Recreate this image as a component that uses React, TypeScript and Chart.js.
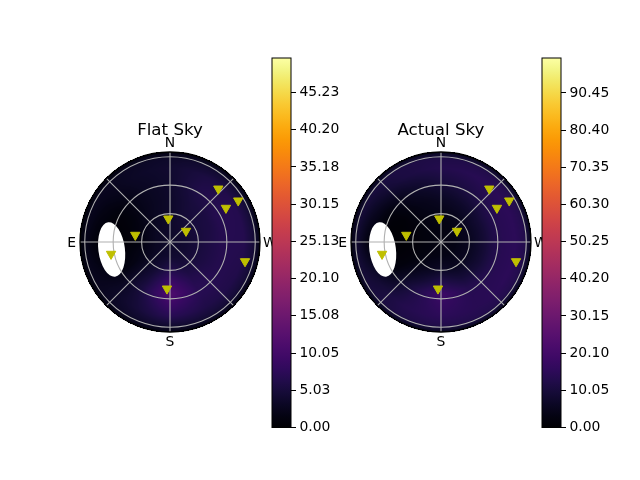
import React, { useEffect, useRef } from "react";
import { Chart, registerables } from "chart.js";

Chart.register(...registerables);

// ---------------- data ----------------
const directionLabels = ["N", "E", "S", "W"];
const directionAz = [0, 90, 180, 270];
const zenithRings = [30, 60, 90];
const spokeAngles = [0, 45, 90, 135];
const skyRadius = 95;

// stars (azimuth from N through E, zenith angle in degrees)
const starAz = [317.8, 301.2, 301.3, 4.2, 304.5, 78.6, 101.5, 255.5, 176.3];
const starZen = [75.9, 84.2, 69.1, 24.7, 20.5, 37.4, 63.5, 81.8, 49.4];

// moon mask
const moonAz = 97.3;
const moonZen = 62.1;
const moonRadialHalf = 14;
const moonTangentialHalf = 29;

// sky brightness grid: rows = azimuth, columns = zenith angle
const gridZen = [0, 15, 30, 45, 55, 65, 78, 88, 95];
const gridAz = [0, 30, 60, 90, 120, 150, 180, 210, 240, 270, 300, 330];

const flatSky = [
  [3.6, 3.6, 3.6, 3.6, 3.7, 3.9, 4.1, 3.6, 1.4],
  [3.6, 3.3, 2.9, 2.6, 2.6, 2.9, 3.3, 3.1, 1.2],
  [3.6, 3.1, 1.9, 1.1, 0.9, 1.1, 1.9, 2.6, 1.0],
  [3.6, 2.9, 1.3, 0.5, 0.3, 0.3, 0.8, 2.0, 0.8],
  [3.6, 3.1, 2.3, 1.6, 1.3, 1.6, 2.3, 2.6, 1.0],
  [3.6, 3.6, 4.1, 5.0, 5.5, 5.0, 4.5, 3.6, 1.4],
  [3.6, 4.1, 6.5, 10.0, 11.5, 9.5, 7.0, 4.2, 1.6],
  [3.6, 4.1, 5.1, 6.5, 7.0, 6.8, 6.0, 4.6, 1.8],
  [3.6, 4.1, 5.1, 6.0, 6.5, 6.6, 6.2, 4.7, 1.8],
  [3.6, 4.1, 5.1, 6.0, 6.6, 6.7, 6.6, 4.8, 1.9],
  [3.6, 4.1, 5.1, 5.6, 6.6, 6.9, 6.6, 4.7, 1.8],
  [3.6, 3.9, 4.6, 5.1, 5.6, 6.1, 5.6, 4.2, 1.6],
];

const actualSky = [
  [2.8, 3.0, 4.0, 6.0, 8.0, 10.5, 13.0, 12.0, 4.5],
  [2.8, 2.7, 3.0, 4.0, 5.5, 7.5, 11.0, 11.5, 4.4],
  [2.8, 2.4, 1.8, 1.2, 1.5, 3.0, 7.0, 10.0, 4.0],
  [2.8, 2.2, 1.2, 0.5, 0.5, 1.0, 3.0, 8.0, 3.2],
  [2.8, 2.5, 2.0, 2.0, 2.5, 4.5, 8.5, 10.0, 4.0],
  [2.8, 3.0, 4.5, 8.0, 11.0, 12.0, 13.0, 12.0, 4.6],
  [2.8, 3.5, 7.0, 14.0, 19.0, 17.0, 15.0, 12.5, 4.8],
  [2.8, 3.5, 5.5, 10.0, 13.0, 14.0, 14.0, 13.0, 5.0],
  [2.8, 3.5, 5.5, 9.0, 12.0, 14.0, 15.0, 13.0, 5.0],
  [2.8, 3.5, 5.5, 9.0, 12.0, 14.0, 15.0, 13.0, 5.0],
  [2.8, 3.5, 5.5, 9.0, 12.0, 14.0, 15.0, 13.0, 5.0],
  [2.8, 3.2, 4.5, 7.5, 10.0, 12.0, 14.0, 12.5, 4.8],
];

const flatMax = 49.9;
const flatTicks = [0, 5.03, 10.05, 15.08, 20.1, 25.13, 30.15, 35.18, 40.2, 45.23];
const actualMax = 99.9;
const actualTicks = [0, 10.05, 20.1, 30.15, 40.2, 50.25, 60.3, 70.35, 80.4, 90.45];

// ---------------- inferno colormap ----------------
const INFERNO =
  "00000401000501010601010802010a02020c02020e03021004031204031405041706041907051b08051d09061f0a07220b07240c08260d08290e092b10092d110a30120a32140b34150b37160b39180c3c190c3e1b0c411c0c431e0c451f0c48210c4a230c4c240c4f260c51280b53290b552b0b572d0b592f0a5b310a5c320a5e340a5f3609613809623909633b09643d09653e0966400a67420a68440a68450a69470b6a490b6a4a0c6b4c0c6b4d0d6c4f0d6c510e6c520e6d540f6d550f6d57106e59106e5a116e5c126e5d126e5f136e61136e62146e64156e65156e67166e69166e6a176e6c186e6d186e6f196e71196e721a6e741a6e751b6e771c6d781c6d7a1d6d7c1d6d7d1e6d7f1e6c801f6c82206c84206b85216b87216b88226a8a226a8c23698d23698f24699025689225689326679526679727669827669a28659b29649d29649f2a63a02a63a22b62a32c61a52c60a62d60a82e5fa92e5eab2f5ead305dae305cb0315bb1325ab3325ab43359b63458b73557b93556ba3655bc3754bd3853bf3952c03a51c13a50c33b4fc43c4ec63d4dc73e4cc83f4bca404acb4149cc4248ce4347cf4446d04545d24644d34743d44842d54a41d74b3fd84c3ed94d3dda4e3cdb503bdd513ade5238df5337e05536e15635e25734e35933e45a31e55c30e65d2fe75e2ee8602de9612bea632aeb6429eb6628ec6726ed6925ee6a24ef6c23ef6e21f06f20f1711ff1731df2741cf3761bf37819f47918f57b17f57d15f67e14f68013f78212f78410f8850ff8870ef8890cf98b0bf98c0af98e09fa9008fa9207fa9407fb9606fb9706fb9906fb9b06fb9d07fc9f07fca108fca309fca50afca60cfca80dfcaa0ffcac11fcae12fcb014fcb216fcb418fbb61afbb81dfbba1ffbbc21fbbe23fac026fac228fac42afac62df9c72ff9c932f9cb35f8cd37f8cf3af7d13df7d340f6d543f6d746f5d949f5db4cf4dd4ff4df53f4e156f3e35af3e55df2e661f2e865f2ea69f1ec6df1ed71f1ef75f1f179f2f27df2f482f3f586f3f68af4f88ef5f992f6fa96f8fb9af9fc9dfafda1fcffa4";
const infernoColors: number[][] = [];
for (let i = 0; i + 6 <= INFERNO.length; i += 6) {
  const s = INFERNO.slice(i, i + 6);
  infernoColors.push([parseInt(s.slice(0, 2), 16), parseInt(s.slice(2, 4), 16), parseInt(s.slice(4, 6), 16)]);
}
function inferno(t: number): number[] {
  const n = infernoColors.length - 1;
  const c = Math.max(0, Math.min(1, t)) * n;
  const i = Math.min(n - 1, Math.floor(c));
  const f = c - i;
  const a = infernoColors[i], b = infernoColors[i + 1];
  return [a[0] + (b[0] - a[0]) * f, a[1] + (b[1] - a[1]) * f, a[2] + (b[2] - a[2]) * f];
}

// ---------------- helpers ----------------
const DEG = Math.PI / 180;
const toXY = (az: number, zen: number) => ({ x: -zen * Math.sin(az * DEG), y: zen * Math.cos(az * DEG) });

function sampleField(field: number[][], zen: number, az: number): number {
  let i = 0;
  while (i < gridZen.length - 2 && zen > gridZen[i + 1]) i++;
  const fz = Math.max(0, Math.min(1, (zen - gridZen[i]) / (gridZen[i + 1] - gridZen[i])));
  const step = 360 / gridAz.length;
  const ja = Math.floor(az / step) % gridAz.length;
  const jb = (ja + 1) % gridAz.length;
  const fa = az / step - Math.floor(az / step);
  const va = field[ja][i] * (1 - fz) + field[ja][i + 1] * fz;
  const vb = field[jb][i] * (1 - fz) + field[jb][i + 1] * fz;
  return va * (1 - fa) + vb * fa;
}

const FONT = "'DejaVu Sans', sans-serif";

const skyPlugin = {
  id: "sky",
  beforeDatasetsDraw(chart: any, _args: any, opts: any) {
    const { ctx, chartArea: a, scales } = chart;
    const xs = scales.x, ys = scales.y;
    const w = Math.round(a.right - a.left), h = Math.round(a.bottom - a.top);
    const off = document.createElement("canvas");
    off.width = w;
    off.height = h;
    const octx = off.getContext("2d")!;
    const img = octx.createImageData(w, h);
    for (let j = 0; j < h; j++) {
      for (let i = 0; i < w; i++) {
        const x = xs.getValueForPixel(a.left + i + 0.5);
        const y = ys.getValueForPixel(a.top + j + 0.5);
        const zen = Math.hypot(x, y);
        if (zen > skyRadius + 0.6) continue;
        let az = Math.atan2(-x, y) / DEG;
        if (az < 0) az += 360;
        const v = sampleField(opts.field, Math.min(zen, skyRadius), az);
        const c = inferno(v / opts.vmax);
        const k = (j * w + i) * 4;
        img.data[k] = c[0];
        img.data[k + 1] = c[1];
        img.data[k + 2] = c[2];
        img.data[k + 3] = 255;
      }
    }
    octx.putImageData(img, 0, 0);
    ctx.drawImage(off, a.left, a.top);

    const cx = xs.getPixelForValue(0), cy = ys.getPixelForValue(0);
    const unit = xs.getPixelForValue(1) - xs.getPixelForValue(0);

    // moon mask
    const m = toXY(moonAz, moonZen);
    const mx = xs.getPixelForValue(m.x), my = ys.getPixelForValue(m.y);
    ctx.save();
    ctx.fillStyle = "#ffffff";
    ctx.beginPath();
    ctx.ellipse(mx, my, moonRadialHalf * unit, moonTangentialHalf * unit, Math.atan2(my - cy, mx - cx), 0, Math.PI * 2);
    ctx.fill();

    // grid
    ctx.strokeStyle = "#b0b0b0";
    ctx.lineWidth = 1.1;
    zenithRings.forEach((r) => {
      ctx.beginPath();
      ctx.arc(cx, cy, r * unit, 0, Math.PI * 2);
      ctx.stroke();
    });
    spokeAngles.forEach((ang) => {
      const p = toXY(ang, skyRadius);
      ctx.beginPath();
      ctx.moveTo(xs.getPixelForValue(p.x), ys.getPixelForValue(p.y));
      ctx.lineTo(xs.getPixelForValue(-p.x), ys.getPixelForValue(-p.y));
      ctx.stroke();
    });
    // spine
    ctx.strokeStyle = "#000000";
    ctx.lineWidth = 1.3;
    ctx.beginPath();
    ctx.arc(cx, cy, skyRadius * unit, 0, Math.PI * 2);
    ctx.stroke();
    ctx.restore();
  },
  afterDraw(chart: any, _args: any, opts: any) {
    const { ctx, scales } = chart;
    const xs = scales.x, ys = scales.y;
    const cx = xs.getPixelForValue(0), cy = ys.getPixelForValue(0);
    const R = xs.getPixelForValue(skyRadius) - cx;
    ctx.save();
    ctx.fillStyle = "#000000";
    ctx.font = `13.9px ${FONT}`;
    ctx.textBaseline = "alphabetic";
    directionLabels.forEach((lab, i) => {
      const az = directionAz[i];
      if (az === 0) {
        ctx.textAlign = "center";
        ctx.fillText(lab, cx, cy - R - 5);
      } else if (az === 180) {
        ctx.textAlign = "center";
        ctx.fillText(lab, cx, cy + R + 14);
      } else if (az === 90) {
        ctx.textAlign = "right";
        ctx.fillText(lab, cx - R - 4, cy + 5);
      } else {
        ctx.textAlign = "left";
        ctx.fillText(lab, cx + R + 3, cy + 5);
      }
    });
    ctx.font = `16.67px ${FONT}`;
    ctx.textAlign = "center";
    ctx.fillText(opts.title, cx, cy - R - 16.8);
    ctx.restore();
  },
};

function PolarSky(props: { left: number; title: string; field: number[][]; vmax: number }) {
  const ref = useRef<HTMLCanvasElement>(null);
  useEffect(() => {
    const points = starAz.map((az, i) => toXY(az, starZen[i]));
    const chart = new Chart(ref.current!, {
      type: "scatter",
      data: {
        datasets: [
          {
            data: points,
            pointStyle: "triangle",
            rotation: 180,
            radius: 5.4,
            backgroundColor: "#bfbf00",
            borderColor: "#bfbf00",
            borderWidth: 1,
          },
        ],
      },
      options: {
        responsive: false,
        animation: false,
        devicePixelRatio: 1,
        layout: { padding: { left: 20, right: 20, top: 40, bottom: 20 } },
        scales: {
          x: { type: "linear", min: -skyRadius, max: skyRadius, display: false },
          y: { type: "linear", min: -skyRadius, max: skyRadius, display: false },
        },
        plugins: {
          legend: { display: false },
          tooltip: { enabled: false },
          sky: { field: props.field, vmax: props.vmax, title: props.title },
        } as any,
      },
      plugins: [skyPlugin],
    });
    return () => chart.destroy();
  }, []);
  return (
    <canvas
      ref={ref}
      width={220}
      height={240}
      style={{ position: "absolute", left: props.left, top: 112, width: 220, height: 240 }}
    />
  );
}

const barGradient = (ctx: CanvasRenderingContext2D, bottom: number, top: number) => {
  const g = ctx.createLinearGradient(0, bottom, 0, top);
  for (let i = 0; i <= 32; i++) {
    const c = inferno(i / 32);
    g.addColorStop(i / 32, `rgb(${c[0]},${c[1]},${c[2]})`);
  }
  return g;
};

const framePlugin = {
  id: "cbframe",
  afterDatasetsDraw(chart: any) {
    const { ctx, chartArea: a } = chart;
    ctx.save();
    ctx.strokeStyle = "#000";
    ctx.lineWidth = 1;
    ctx.strokeRect(a.left, a.top, a.right - a.left, a.bottom - a.top);
    ctx.restore();
  },
};

function ColorBar(props: { left: number; vmax: number; ticks: number[] }) {
  const ref = useRef<HTMLCanvasElement>(null);
  useEffect(() => {
    const chart = new Chart(ref.current!, {
      type: "bar",
      data: {
        labels: [""],
        datasets: [
          {
            data: [[0, props.vmax]] as any,
            barPercentage: 1,
            categoryPercentage: 1,
            borderWidth: 0,
            backgroundColor: (c: any) => {
              const a = c.chart.chartArea;
              if (!a) return "#000";
              return barGradient(c.chart.ctx, a.bottom, a.top);
            },
          },
        ],
      },
      options: {
        responsive: false,
        animation: false,
        devicePixelRatio: 1,
        layout: { padding: { left: 10, right: 1, top: 18, bottom: 12.5 } },
        scales: {
          x: { display: false },
          y: {
            position: "right",
            min: 0,
            max: props.vmax,
            afterFit: (s: any) => {
              s.width = 50;
            },
            afterBuildTicks: (s: any) => {
              s.ticks = props.ticks.map((v) => ({ value: v }));
            },
            border: { display: false },
            grid: { drawOnChartArea: false, drawTicks: true, tickLength: 5, color: "#000", lineWidth: 1 },
            ticks: {
              padding: 3.5,
              color: "#000",
              font: { family: FONT, size: 13.9 },
              callback: (v: any) => Number(v).toFixed(2),
            },
          },
        },
        plugins: { legend: { display: false }, tooltip: { enabled: false } },
      },
      plugins: [framePlugin],
    });
    return () => chart.destroy();
  }, []);
  return (
    <canvas
      ref={ref}
      width={80}
      height={400}
      style={{ position: "absolute", left: props.left, top: 40, width: 80, height: 400 }}
    />
  );
}

export default function App() {
  return (
    <div style={{ position: "fixed", left: 0, top: 0, width: 640, height: 480, background: "#fff", overflow: "hidden" }}>
      <PolarSky left={60} title="Flat Sky" field={flatSky} vmax={flatMax} />
      <ColorBar left={262} vmax={flatMax} ticks={flatTicks} />
      <PolarSky left={331} title="Actual Sky" field={actualSky} vmax={actualMax} />
      <ColorBar left={532} vmax={actualMax} ticks={actualTicks} />
    </div>
  );
}
